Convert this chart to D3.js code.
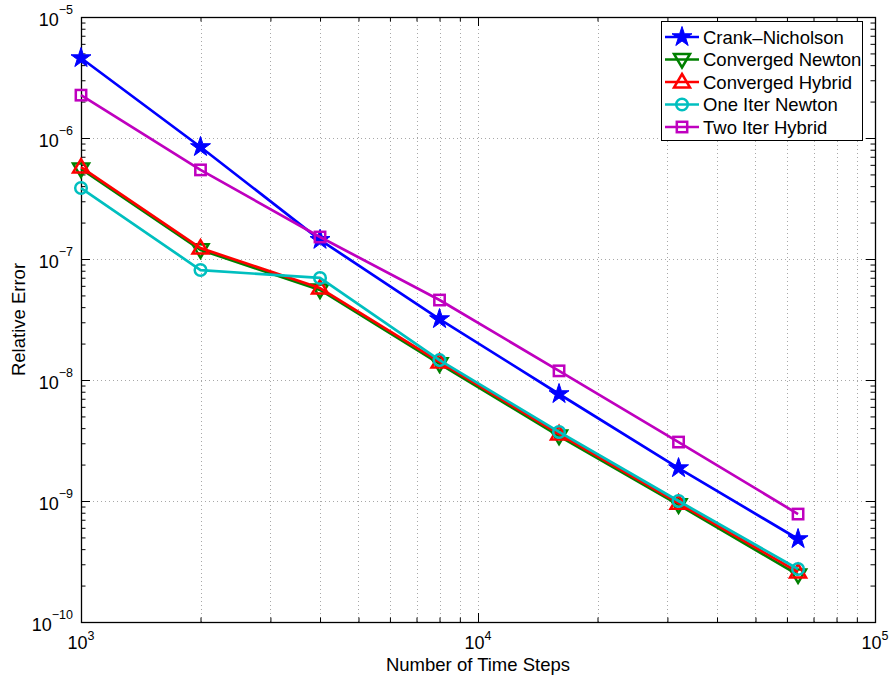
<!DOCTYPE html>
<html>
<head>
<meta charset="utf-8">
<script src="https://cdn.jsdelivr.net/npm/d3@7"></script>
<style>
  body { margin: 0; background: #fff; }
  svg { display: block; font-family: "Liberation Sans", Arial, Helvetica, sans-serif; }
</style>
</head>
<body>
<svg id="chart" width="889" height="677"></svg>
<script>
// ---- data ----
const steps = [1000, 2000, 4000, 8000, 16000, 32000, 64000];
const crankNicholson = [4.58e-6, 8.43e-7, 1.44e-7, 3.19e-8, 7.66e-9, 1.87e-9, 4.85e-10];
const convergedNewton = [5.55e-7, 1.19e-7, 5.55e-8, 1.36e-8, 3.44e-9, 9.3e-10, 2.45e-10];
const convergedHybrid = [5.75e-7, 1.23e-7, 5.75e-8, 1.41e-8, 3.58e-9, 9.6e-10, 2.59e-10];
const oneIterNewton = [3.86e-7, 8.1e-8, 6.97e-8, 1.46e-8, 3.72e-9, 1.0e-9, 2.74e-10];
const twoIterHybrid = [2.26e-6, 5.45e-7, 1.52e-7, 4.58e-8, 1.19e-8, 3.07e-9, 7.8e-10];
const seriesNames = ["Crank\u2013Nicholson", "Converged Newton", "Converged Hybrid", "One Iter Newton", "Two Iter Hybrid"];
const xTickExps = [3, 4, 5];
const yTickExps = [-10, -9, -8, -7, -6, -5];
const xLabel = "Number of Time Steps";
const yLabel = "Relative Error";

const series = [
  { name: seriesNames[0], values: crankNicholson, color: "#0000ff", marker: "star" },
  { name: seriesNames[1], values: convergedNewton, color: "#008000", marker: "tridown" },
  { name: seriesNames[2], values: convergedHybrid, color: "#ff0000", marker: "triup" },
  { name: seriesNames[3], values: oneIterNewton, color: "#00bfbf", marker: "circle" },
  { name: seriesNames[4], values: twoIterHybrid, color: "#bf00bf", marker: "square" }
];

const svg = d3.select("#chart");
const L = 81, R = 875, T = 17, B = 622;
const x = d3.scaleLog().domain([1e3, 1e5]).range([L, R]);
const y = d3.scaleLog().domain([1e-10, 1e-5]).range([B, T]);

// minor values
const xMinor = [], yMinor = [];
for (let e = 3; e < 5; e++) for (let m = 2; m <= 9; m++) xMinor.push(m * Math.pow(10, e));
for (let e = -10; e < -5; e++) for (let m = 2; m <= 9; m++) yMinor.push(m * Math.pow(10, e));
const xMajor = xTickExps.map(e => Math.pow(10, e));
const yMajor = yTickExps.map(e => Math.pow(10, e));

// grid (x: major+minor, y: major only)
const grid = svg.append("g").attr("stroke", "#a8a8a8").attr("stroke-width", 1).attr("stroke-dasharray", "1,3");
grid.selectAll("line.gx").data(xMinor.concat(xMajor.slice(1, -1))).join("line")
  .attr("class", "gx")
  .attr("x1", d => Math.round(x(d)) + 0.5).attr("x2", d => Math.round(x(d)) + 0.5)
  .attr("y1", T).attr("y2", B);
grid.selectAll("line.gy").data(yMajor.slice(1, -1)).join("line")
  .attr("class", "gy")
  .attr("y1", d => Math.round(y(d)) + 0.5).attr("y2", d => Math.round(y(d)) + 0.5)
  .attr("x1", L).attr("x2", R);

// axes with inward ticks
function styleAxis(g) {
  g.select(".domain").remove();
  g.selectAll(".tick line").attr("stroke", "#000").attr("stroke-width", 1);
}
svg.append("g").attr("transform", `translate(0,${B})`)
  .call(d3.axisBottom(x).tickValues(xMajor).tickSize(-9).tickFormat(""))
  .call(styleAxis);
svg.append("g").attr("transform", `translate(0,${B})`)
  .call(d3.axisBottom(x).tickValues(xMinor).tickSize(-4.5).tickFormat(""))
  .call(styleAxis);
svg.append("g").attr("transform", `translate(0,${T})`)
  .call(d3.axisTop(x).tickValues(xMajor).tickSize(-9).tickFormat(""))
  .call(styleAxis);
svg.append("g").attr("transform", `translate(0,${T})`)
  .call(d3.axisTop(x).tickValues(xMinor).tickSize(-4.5).tickFormat(""))
  .call(styleAxis);
svg.append("g").attr("transform", `translate(${L},0)`)
  .call(d3.axisLeft(y).tickValues(yMajor).tickSize(-9).tickFormat(""))
  .call(styleAxis);
svg.append("g").attr("transform", `translate(${L},0)`)
  .call(d3.axisLeft(y).tickValues(yMinor).tickSize(-4.5).tickFormat(""))
  .call(styleAxis);
svg.append("g").attr("transform", `translate(${R},0)`)
  .call(d3.axisRight(y).tickValues(yMajor).tickSize(-9).tickFormat(""))
  .call(styleAxis);
svg.append("g").attr("transform", `translate(${R},0)`)
  .call(d3.axisRight(y).tickValues(yMinor).tickSize(-4.5).tickFormat(""))
  .call(styleAxis);

svg.append("rect").attr("x", L + 0.5).attr("y", T + 0.5).attr("width", R - L).attr("height", B - T)
  .attr("fill", "none").attr("stroke", "#000").attr("stroke-width", 1.3);

// tick labels
const xl = svg.append("g").attr("font-size", 18).attr("fill", "#000");
xTickExps.forEach(e => {
  const t = xl.append("text").attr("x", x(Math.pow(10, e))).attr("y", 649).attr("text-anchor", "middle");
  t.append("tspan").text("10");
  t.append("tspan").attr("font-size", 12.5).attr("dy", -9).text(String(e).replace("-", "\u2212"));
});
const yl = svg.append("g").attr("font-size", 18).attr("fill", "#000");
yTickExps.forEach(e => {
  const t = yl.append("text").attr("x", 73).attr("y", y(Math.pow(10, e)) + 9).attr("text-anchor", "end");
  t.append("tspan").text("10");
  t.append("tspan").attr("font-size", 12.5).attr("dy", -12.5).text(String(e).replace("-", "\u2212"));
});

// axis labels
svg.append("text").attr("x", (L + R) / 2).attr("y", 671).attr("text-anchor", "middle")
  .attr("font-size", 18.5).text(xLabel);
svg.append("text").attr("transform", `translate(25,${(T + B) / 2}) rotate(-90)`).attr("text-anchor", "middle")
  .attr("font-size", 18.5).text(yLabel);

// markers
function drawMarker(g, type, color, cx, cy) {
  if (type === "star") {
    g.append("path").attr("d", d3.symbol(d3.symbolStar, 124)()).attr("transform", `translate(${cx},${cy})`)
      .attr("fill", color).attr("stroke", color).attr("stroke-width", 1);
  } else if (type === "triup") {
    g.append("path").attr("d", "M0,-8L8,5.5L-8,5.5Z").attr("transform", `translate(${cx},${cy})`)
      .attr("fill", "none").attr("stroke", color).attr("stroke-width", 2.5);
  } else if (type === "tridown") {
    g.append("path").attr("d", "M0,8L8,-5.5L-8,-5.5Z").attr("transform", `translate(${cx},${cy})`)
      .attr("fill", "none").attr("stroke", color).attr("stroke-width", 2.5);
  } else if (type === "circle") {
    g.append("circle").attr("cx", cx).attr("cy", cy).attr("r", 5.8)
      .attr("fill", "none").attr("stroke", color).attr("stroke-width", 2.5);
  } else if (type === "square") {
    g.append("rect").attr("x", cx - 5.2).attr("y", cy - 5.2).attr("width", 10.4).attr("height", 10.4)
      .attr("fill", "none").attr("stroke", color).attr("stroke-width", 2.5);
  }
}

const line = d3.line().x(d => x(d[0])).y(d => y(d[1]));
series.forEach(s => {
  const g = svg.append("g");
  const pts = steps.map((st, i) => [st, s.values[i]]);
  g.append("path").attr("d", line(pts)).attr("fill", "none").attr("stroke", s.color).attr("stroke-width", 2.7)
    .attr("stroke-linejoin", "round");
  pts.forEach(p => drawMarker(g, s.marker, s.color, x(p[0]), y(p[1])));
});

// legend
const lg = svg.append("g");
lg.append("rect").attr("x", 661.5).attr("y", 21.5).attr("width", 201).attr("height", 119)
  .attr("fill", "#fff").attr("stroke", "#000").attr("stroke-width", 1);
series.forEach((s, i) => {
  const ly = 37 + i * 22.5;
  lg.append("line").attr("x1", 665).attr("x2", 699).attr("y1", ly).attr("y2", ly)
    .attr("stroke", s.color).attr("stroke-width", 2.7);
  drawMarker(lg, s.marker, s.color, 682, ly);
  lg.append("text").attr("x", 703).attr("y", ly + 6.5).attr("font-size", 18.5).text(s.name);
});
</script>
</body>
</html>
